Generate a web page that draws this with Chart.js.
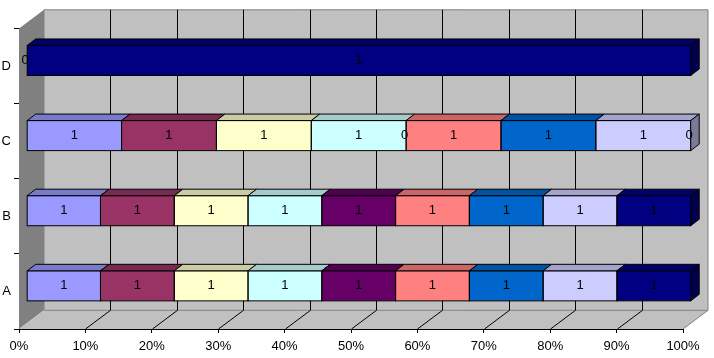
<!DOCTYPE html>
<html><head><meta charset="utf-8">
<script src="https://cdn.jsdelivr.net/npm/chart.js@4.4.1/dist/chart.umd.min.js"></script>
<style>html,body{margin:0;padding:0;background:#fff;}canvas{display:block;}</style>
</head><body>
<canvas id="c" width="714" height="358"></canvas>
<script>
// ---- data ----
const categories = ['A', 'B', 'C', 'D'];
const seriesNames = ['Series1','Series2','Series3','Series4','Series5','Series6','Series7','Series8','Series9'];
const series1 = [1, 1, 1, 0];
const series2 = [1, 1, 1, 0];
const series3 = [1, 1, 1, 0];
const series4 = [1, 1, 1, 0];
const series5 = [1, 1, 0, 0];
const series6 = [1, 1, 1, 0];
const series7 = [1, 1, 1, 0];
const series8 = [1, 1, 1, 0];
const series9 = [1, 1, 0, 1];
const xTickValues = [0, 10, 20, 30, 40, 50, 60, 70, 80, 90, 100];

// ---- styles ----
const seriesColors = ['#9999FF','#993366','#FFFFCC','#CCFFFF','#660066','#FF8080','#0066CC','#CCCCFF','#000080'];
const FONT = '"Liberation Sans", Arial, sans-serif';
const WALL = {dx: 25, dy: -18.7};   // full depth of the 3D box
const FRONT = {dx: 7.7, dy: -5.6};  // depth of bar front faces
const DEPTH = {dx: 8.5, dy: -6.5};  // thickness of bars

const allSeries = [series1, series2, series3, series4, series5, series6, series7, series8, series9];
const totals = categories.map((_, i) => allSeries.reduce((s, arr) => s + arr[i], 0));

function shade(hex, f) {
  const n = parseInt(hex.slice(1), 16);
  const r = Math.round(((n >> 16) & 255) * f), g = Math.round(((n >> 8) & 255) * f), b = Math.round((n & 255) * f);
  return `rgb(${r},${g},${b})`;
}
function poly(ctx, pts, fill, stroke) {
  ctx.beginPath();
  ctx.moveTo(pts[0][0], pts[0][1]);
  for (let i = 1; i < pts.length; i++) ctx.lineTo(pts[i][0], pts[i][1]);
  ctx.closePath();
  if (fill) { ctx.fillStyle = fill; ctx.fill(); }
  if (stroke) { ctx.strokeStyle = stroke; ctx.lineWidth = 1; ctx.stroke(); }
}
function line(ctx, x1, y1, x2, y2, color) {
  ctx.beginPath(); ctx.moveTo(x1, y1); ctx.lineTo(x2, y2);
  ctx.strokeStyle = color; ctx.lineWidth = 1; ctx.stroke();
}

const box3d = {
  id: 'box3d',
  beforeDatasetsDraw(chart) {
    const {ctx, chartArea: a, scales: {x}} = chart;
    ctx.save();
    const L = a.left, R = a.right, T = a.top, B = a.bottom;
    poly(ctx, [[L, B], [L, T], [L + WALL.dx, T + WALL.dy], [L + WALL.dx, B + WALL.dy]], '#808080', null);
    poly(ctx, [[L, B], [R, B], [R + WALL.dx, B + WALL.dy], [L + WALL.dx, B + WALL.dy]], '#C0C0C0', null);
    poly(ctx, [[L + WALL.dx, T + WALL.dy], [R + WALL.dx, T + WALL.dy], [R + WALL.dx, B + WALL.dy], [L + WALL.dx, B + WALL.dy]], '#C0C0C0', '#808080');
    line(ctx, R, B, R + WALL.dx, B + WALL.dy, '#808080');
    x.ticks.forEach(t => {
      if (t.value <= x.min || t.value >= x.max) return;
      const px = Math.round(x.getPixelForValue(t.value)) + 0.5;
      line(ctx, px + WALL.dx, T + WALL.dy, px + WALL.dx, B + WALL.dy, '#000');
      line(ctx, px, B, px + WALL.dx, B + WALL.dy, '#000');
    });
    ctx.restore();
    ctx.save();
    ctx.translate(FRONT.dx, FRONT.dy);
  },
  afterDatasetsDraw(chart) {
    const ctx = chart.ctx;
    const rows = {};
    chart.data.datasets.forEach((ds, di) => {
      const meta = chart.getDatasetMeta(di);
      meta.data.forEach((el, i) => {
        const p = el.getProps(['x', 'y', 'base', 'height'], true);
        const x0 = Math.min(p.x, p.base), x1 = Math.max(p.x, p.base);
        const y0 = p.y - p.height / 2, y1 = p.y + p.height / 2;
        if (x1 - x0 > 0.5) {
          ctx.lineWidth = 1;
          ctx.strokeStyle = '#000';
          ctx.strokeRect(x0, y0, x1 - x0, y1 - y0);
          poly(ctx, [[x0, y0], [x1, y0], [x1 + DEPTH.dx, y0 + DEPTH.dy], [x0 + DEPTH.dx, y0 + DEPTH.dy]], shade(ds.backgroundColor, 0.8), '#000');
          if (!rows[i] || x1 >= rows[i].x1) rows[i] = {x1, y0, y1, color: ds.backgroundColor};
        }
      });
    });
    Object.values(rows).forEach(r => {
      poly(ctx, [[r.x1, r.y0], [r.x1 + DEPTH.dx, r.y0 + DEPTH.dy], [r.x1 + DEPTH.dx, r.y1 + DEPTH.dy], [r.x1, r.y1]], shade(r.color, 0.6), '#000');
    });
    // data labels (labels at identical spots are drawn once)
    ctx.fillStyle = '#000';
    ctx.font = '13px ' + FONT;
    ctx.textAlign = 'center';
    ctx.textBaseline = 'middle';
    const seen = new Set();
    chart.data.datasets.forEach((ds, di) => {
      const meta = chart.getDatasetMeta(di);
      meta.data.forEach((el, i) => {
        const p = el.getProps(['x', 'y', 'base'], true);
        const v = ds.values[i];
        const cx = v === 0 ? p.x - 1.5 : (p.x + p.base) / 2;
        const key = Math.round(cx) + '|' + Math.round(p.y) + '|' + v;
        if (seen.has(key)) return;
        seen.add(key);
        ctx.fillText(String(v), cx, p.y);
      });
    });
    ctx.restore();
  }
};

new Chart(document.getElementById('c'), {
  type: 'bar',
  data: {
    labels: categories,
    datasets: allSeries.map((arr, si) => ({
      label: seriesNames[si],
      values: arr,
      data: arr.map((v, i) => v / totals[i] * 100),
      backgroundColor: seriesColors[si],
      borderWidth: 0,
      barPercentage: 1,
      categoryPercentage: 0.4,
      clip: false
    }))
  },
  options: {
    indexAxis: 'y',
    responsive: false,
    animation: false,
    events: [],
    layout: {padding: {top: 28.5, right: 31, left: 0, bottom: 0}},
    plugins: {legend: {display: false}, tooltip: {enabled: false}},
    scales: {
      x: {
        type: 'linear', stacked: true, min: 0, max: 100,
        afterBuildTicks(scale) { scale.ticks = xTickValues.map(v => ({value: v})); },
        afterFit(scale) { scale.height = 29; },
        ticks: {color: '#000', font: {family: FONT, size: 13}, padding: 6, maxRotation: 0, autoSkip: false,
                callback: v => v + '%'},
        grid: {drawOnChartArea: false, drawTicks: true, tickLength: 4, color: '#000'},
        border: {color: '#000', width: 1}
      },
      y: {
        stacked: true, reverse: true,
        afterFit(scale) { scale.width = 19; },
        ticks: {color: '#000', font: {family: FONT, size: 13}, padding: 3},
        grid: {drawOnChartArea: false, drawTicks: true, tickLength: 5, color: '#000'},
        border: {color: '#000', width: 1}
      }
    }
  },
  plugins: [box3d]
});
</script>
</body></html>
